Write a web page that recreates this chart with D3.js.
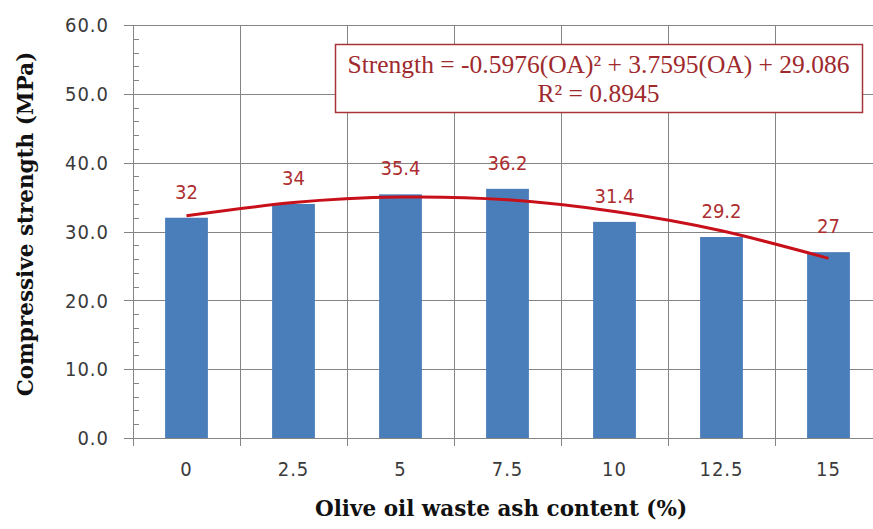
<!DOCTYPE html>
<html>
<head>
<meta charset="utf-8">
<script src="https://cdn.jsdelivr.net/npm/d3@7"></script>
<style>
  html, body { margin: 0; padding: 0; background: #fff; overflow: hidden; }
  svg { display: block; }
</style>
</head>
<body>
<div id="chart"></div>
<script>
// chart values
var categories = ['0', '2.5', '5', '7.5', '10', '12.5', '15'];
var strength = [32, 34, 35.4, 36.2, 31.4, 29.2, 27];
// polynomial trend line, read at each category centre
var trendValues = [32.3, 34.2, 35.0, 34.6, 32.9, 30.1, 26.1];
var yTicks = [0, 10, 20, 30, 40, 50, 60];
var equationLines = ['Strength = -0.5976(OA)\u00b2 + 3.7595(OA) + 29.086', 'R\u00b2 = 0.8945'];
var xTitle = 'Olive oil waste ash content (%)';
var yTitle = 'Compressive strength (MPa)';

var W = 873, H = 529;
var plot = {left: 133, right: 882, top: 25, bottom: 438};
var gridCol = '#858585', labelCol = '#3a3a3a', red = '#ad2e31';

var svg = d3.select('#chart').append('svg').attr('width', W).attr('height', H);

var x = d3.scaleBand().domain(categories).range([plot.left, plot.right]).padding(0);
var y = d3.scaleLinear().domain([0, 60]).range([plot.bottom, plot.top]);
var bw = x.bandwidth();

// horizontal gridlines (with outward ticks)
svg.append('g').selectAll('line').data(yTicks).enter().append('line')
  .attr('x1', plot.left - 9).attr('x2', plot.right)
  .attr('y1', function(d) { return Math.round(y(d)) + 0.5; })
  .attr('y2', function(d) { return Math.round(y(d)) + 0.5; })
  .attr('stroke', gridCol).attr('stroke-width', 1);

// vertical gridlines at category boundaries
var bounds = categories.map(function(c, i) { return x(c); }).concat([plot.right]);
svg.append('g').selectAll('line').data(bounds).enter().append('line')
  .attr('x1', function(d) { return Math.round(d) + 0.5; })
  .attr('x2', function(d) { return Math.round(d) + 0.5; })
  .attr('y1', plot.top).attr('y2', plot.bottom + 8)
  .attr('stroke', gridCol).attr('stroke-width', 1);

// minor ticks inside the y axis
var minor = d3.range(2, 60, 2).filter(function(v) { return v % 10 !== 0; });
svg.append('g').selectAll('line').data(minor).enter().append('line')
  .attr('x1', plot.left).attr('x2', plot.left + 6)
  .attr('y1', function(d) { return Math.round(y(d)) + 0.5; })
  .attr('y2', function(d) { return Math.round(y(d)) + 0.5; })
  .attr('stroke', gridCol).attr('stroke-width', 1);

// bars
svg.append('g').selectAll('rect').data(strength).enter().append('rect')
  .attr('x', function(d, i) { return x(categories[i]) + bw * 0.3; })
  .attr('width', bw * 0.4)
  .attr('y', function(d) { return y(d); })
  .attr('height', function(d) { return y(0) - y(d); })
  .attr('fill', '#4a7ebb');

// trend line
var line = d3.line()
  .x(function(d, i) { return x(categories[i]) + bw / 2; })
  .y(function(d) { return y(d); })
  .curve(d3.curveNatural);
svg.append('path').datum(trendValues).attr('d', line)
  .attr('fill', 'none').attr('stroke', '#c8101a').attr('stroke-width', 3);

// value labels
svg.append('g').selectAll('text').data(strength).enter().append('text')
  .attr('x', function(d, i) { return x(categories[i]) + bw / 2; })
  .attr('y', function(d) { return y(d) - 19; })
  .attr('text-anchor', 'middle')
  .style('font-family', '"DejaVu Sans Condensed", "DejaVu Sans", sans-serif')
  .style('font-size', '20px').attr('fill', red)
  .text(function(d) { return d; });

// y tick labels
svg.append('g').selectAll('text').data(yTicks).enter().append('text')
  .attr('x', 109).attr('y', function(d) { return y(d); }).attr('dy', '0.36em')
  .attr('text-anchor', 'end')
  .style('font-family', '"DejaVu Sans Condensed", "DejaVu Sans", sans-serif')
  .style('font-size', '20px').style('letter-spacing', '1px').attr('fill', labelCol)
  .text(function(d) { return d3.format('.1f')(d); });

// x tick labels
svg.append('g').selectAll('text').data(categories).enter().append('text')
  .attr('x', function(d) { return x(d) + bw / 2; }).attr('y', 476)
  .attr('text-anchor', 'middle')
  .style('font-family', '"DejaVu Sans Condensed", "DejaVu Sans", sans-serif')
  .style('font-size', '20px').style('letter-spacing', '1px').attr('fill', labelCol)
  .text(function(d) { return d; });

// axis titles
svg.append('text').attr('x', 501).attr('y', 516).attr('text-anchor', 'middle')
  .style('font-family', '"DejaVu Serif", serif').style('font-weight', 'bold')
  .style('font-size', '21.5px').attr('fill', '#111').text(xTitle);
svg.append('text').attr('transform', 'translate(33,224) rotate(-90)')
  .attr('text-anchor', 'middle')
  .style('font-family', '"DejaVu Serif", serif').style('font-weight', 'bold')
  .style('font-size', '21.5px').attr('fill', '#111').text(yTitle);

// trend equation box
var box = {x: 335, y: 44, w: 527, h: 68};
svg.append('rect').attr('x', box.x + 0.5).attr('y', box.y + 0.5)
  .attr('width', box.w).attr('height', box.h)
  .attr('fill', '#fff').attr('stroke', '#a8343a').attr('stroke-width', 1.5);
svg.append('g').selectAll('text').data(equationLines).enter().append('text')
  .attr('x', box.x + box.w / 2).attr('y', function(d, i) { return 73 + i * 29; })
  .attr('text-anchor', 'middle')
  .style('font-family', '"Liberation Serif", "Times New Roman", serif')
  .style('font-size', '25.5px').attr('fill', '#9e2a2e')
  .text(function(d) { return d; });
</script>
</body>
</html>
